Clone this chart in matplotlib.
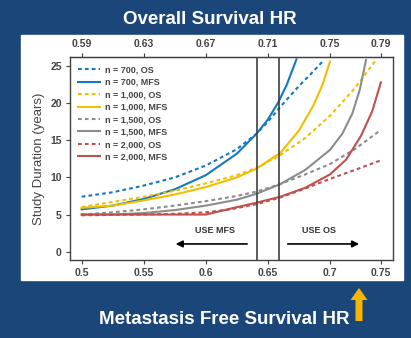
import numpy as np
import matplotlib.pyplot as plt
from matplotlib.patches import Rectangle, FancyArrow

plt.rcParams['font.family'] = ['Liberation Sans', 'DejaVu Sans']

# 轴刻度（MFS 在下方，OS 在上方）
mfs_ticks = [0.5, 0.55, 0.6, 0.65, 0.7, 0.741]
mfs_labels = ['0.5', '0.55', '0.6', '0.65', '0.7', '0.75']
os_labels = ['0.59', '0.63', '0.67', '0.71', '0.75', '0.79']
y_ticks = [0, 5, 10, 15, 20, 25]
cut_lines = [0.6414, 0.6589]

# 曲线数据
x_700_os = [0.5, 0.525, 0.55, 0.575, 0.6, 0.625, 0.641, 0.65, 0.66, 0.675, 0.685, 0.694]
y_700_os = [7.4, 8.0, 8.9, 10.0, 11.6, 13.8, 15.9, 17.5, 19.5, 22.3, 24.0, 25.6]
x_700_mfs = [0.5, 0.525, 0.55, 0.575, 0.6, 0.625, 0.641, 0.65, 0.658, 0.665, 0.673]
y_700_mfs = [5.7, 6.2, 7.1, 8.4, 10.3, 13.2, 15.9, 17.8, 20.0, 22.4, 25.9]

x_1000_os = [0.5, 0.525, 0.55, 0.575, 0.6, 0.625, 0.641, 0.66, 0.68, 0.7, 0.72, 0.737]
y_1000_os = [6.0, 6.7, 7.4, 8.2, 9.2, 10.3, 11.3, 13.0, 15.3, 18.3, 22.0, 25.8]
x_1000_mfs = [0.5, 0.525, 0.55, 0.575, 0.6, 0.625, 0.641, 0.66, 0.675, 0.687, 0.694, 0.7]
y_1000_mfs = [5.9, 6.2, 6.9, 7.7, 8.7, 10.0, 11.2, 13.3, 16.3, 19.8, 22.5, 25.6]

x_1500_os = [0.5, 0.525, 0.55, 0.575, 0.6, 0.625, 0.641, 0.66, 0.68, 0.7, 0.72, 0.741]
y_1500_os = [5.0, 5.3, 5.7, 6.2, 6.8, 7.5, 8.1, 9.1, 10.4, 11.8, 13.8, 16.4]
x_1500_mfs = [0.5, 0.525, 0.55, 0.575, 0.6, 0.625, 0.641, 0.66, 0.68, 0.7, 0.71, 0.718, 0.724, 0.729]
y_1500_mfs = [5.0, 5.0, 5.2, 5.6, 6.2, 7.0, 7.8, 9.1, 11.0, 13.7, 15.9, 18.6, 21.8, 25.8]

x_2000_os = [0.5, 0.55, 0.575, 0.6, 0.62, 0.641, 0.66, 0.68, 0.7, 0.72, 0.741]
y_2000_os = [4.9, 5.0, 5.1, 5.3, 5.7, 6.4, 7.3, 8.5, 9.8, 11.0, 12.3]
x_2000_mfs = [0.5, 0.55, 0.6, 0.62, 0.641, 0.66, 0.68, 0.7, 0.713, 0.725, 0.734, 0.741]
y_2000_mfs = [5.0, 5.0, 5.0, 5.8, 6.6, 7.4, 8.6, 10.4, 12.4, 15.6, 18.9, 22.8]

blue = '#1478C2'
yellow = '#F2BE00'
gray = '#8C8C8C'
red = '#C0504D'

series = [
    (x_700_os, y_700_os, blue, '--', 'n = 700, OS'),
    (x_700_mfs, y_700_mfs, blue, '-', 'n = 700, MFS'),
    (x_1000_os, y_1000_os, yellow, '--', 'n = 1,000, OS'),
    (x_1000_mfs, y_1000_mfs, yellow, '-', 'n = 1,000, MFS'),
    (x_1500_os, y_1500_os, gray, '--', 'n = 1,500, OS'),
    (x_1500_mfs, y_1500_mfs, gray, '-', 'n = 1,500, MFS'),
    (x_2000_os, y_2000_os, red, '--', 'n = 2,000, OS'),
    (x_2000_mfs, y_2000_mfs, red, '-', 'n = 2,000, MFS'),
]

W, H = 411, 338
fig = plt.figure(figsize=(W / 100, H / 100), dpi=100)
fig.patch.set_facecolor('#1B4679')

# 背景层：白色面板、标题、黄色箭头
bg = fig.add_axes([0, 0, 1, 1], zorder=-1)
bg.set_xlim(0, W)
bg.set_ylim(H, 0)
bg.axis('off')
bg.add_patch(Rectangle((20.7, 35), 382.3, 244.5, color='white'))
bg.text(210, 20, 'Overall Survival HR', ha='center', va='center',
        color='white', fontsize=13.5, fontweight='bold')
bg.text(224, 320, 'Metastasis Free Survival HR', ha='center', va='center',
        color='white', fontsize=13.5, fontweight='bold')
bg.add_patch(FancyArrow(359, 321, 0, -33, width=7, head_width=17, head_length=12,
                        length_includes_head=True, color='#F7B500', lw=0))

# 主图
ax = fig.add_axes([70 / W, (H - 260) / H, 323.3 / W, 202.7 / H])
for x, y, c, ls, lab in series:
    if ls == '--':
        ax.plot(x, y, color=c, lw=1.5, linestyle=(0, (1.8, 1.5)), label=lab)
    else:
        ax.plot(x, y, color=c, lw=1.5, label=lab)

for xc in cut_lines:
    ax.axvline(xc, color='#404040', lw=1.2)

ax.set_xlim(0.4906, 0.751)
ax.set_ylim(-1.12, 26.17)
ax.set_xticks(mfs_ticks, labels=mfs_labels)
ax.set_yticks(y_ticks)
ax.tick_params(direction='out', length=3, width=0.8, colors='#404040',
               labelsize=7.5, labelcolor='#444444', pad=3)
for lab in ax.get_xticklabels() + ax.get_yticklabels():
    lab.set_fontweight('bold')
for sp in ax.spines.values():
    sp.set_color('#404040')
    sp.set_linewidth(1.0)

top = ax.secondary_xaxis('top')
top.set_xticks(mfs_ticks, labels=os_labels)
top.tick_params(direction='out', length=3, width=0.8, colors='#404040',
                labelsize=7.5, labelcolor='#444444', pad=3)
for lab in top.get_xticklabels():
    lab.set_fontweight('bold')
top.spines['top'].set_color('#404040')

ax.set_ylabel('Study Duration (years)', fontsize=9.5, color='#444444', labelpad=4)

ax.text(0.6074, 2.8, 'USE MFS', ha='center', va='center', fontsize=6.5,
        fontweight='bold', color='#333333')
ax.text(0.6915, 2.8, 'USE OS', ha='center', va='center', fontsize=6.5,
        fontweight='bold', color='#333333')
ax.annotate('', xy=(0.5735, 1.04), xytext=(0.6355, 1.04),
            arrowprops=dict(arrowstyle='-|>', color='black', lw=1.2, mutation_scale=10))
ax.annotate('', xy=(0.7257, 1.04), xytext=(0.6637, 1.04),
            arrowprops=dict(arrowstyle='-|>', color='black', lw=1.2, mutation_scale=10))

leg = ax.legend(loc='upper left', fontsize=6.5, frameon=False, handlelength=2.45,
                labelspacing=0.38, borderaxespad=0.5, handletextpad=0.55)
for t in leg.get_texts():
    t.set_color('#444444')
    t.set_fontweight('bold')

fig.savefig('out.png', dpi=100, facecolor=fig.get_facecolor())
